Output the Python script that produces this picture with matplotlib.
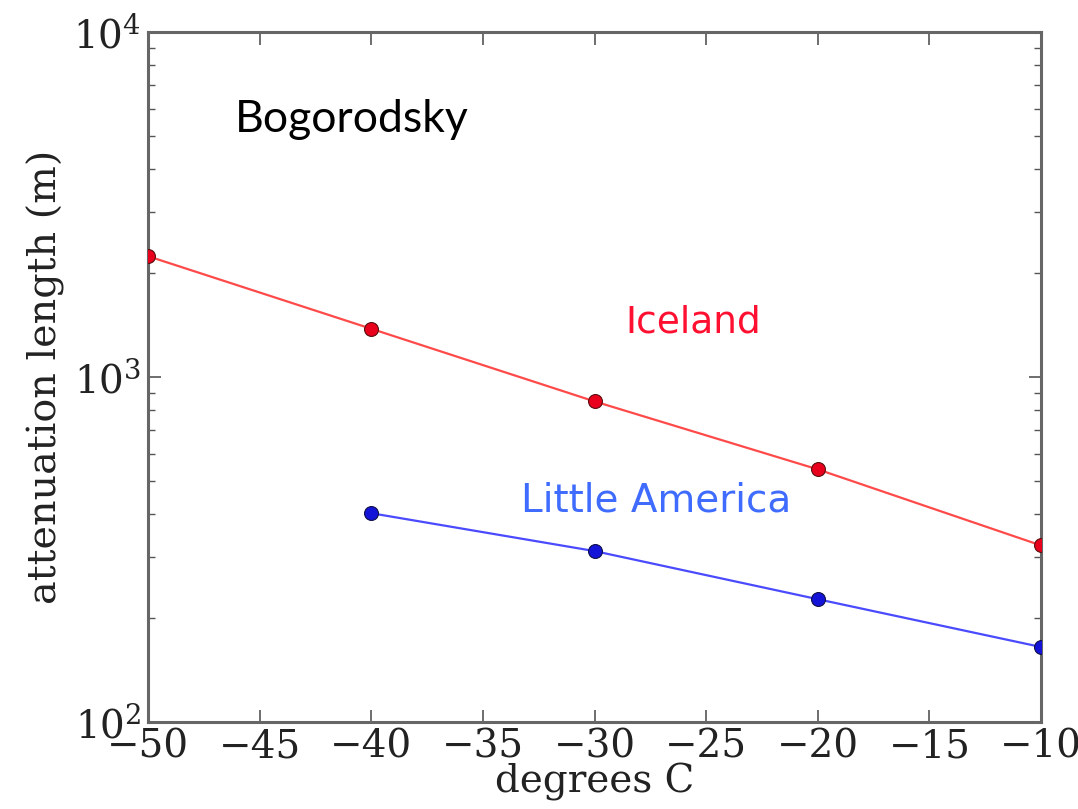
import numpy as np
import matplotlib
matplotlib.use("Agg")
import matplotlib.pyplot as plt
from matplotlib.ticker import LogLocator, MultipleLocator

# temperatures (degrees C) and attenuation lengths (m)
temp_iceland = [-50, -40, -30, -20, -10]
atten_iceland = [2240, 1380, 850, 540, 325]

temp_little_america = [-40, -30, -20, -10]
atten_little_america = [403, 313, 227, 165]

plt.rcParams['font.family'] = 'DejaVu Serif'
plt.rcParams['mathtext.fontset'] = 'dejavuserif'

fig = plt.figure(figsize=(10.78, 8.09), dpi=100)
ax = fig.add_axes([0.1373, 0.1075, 0.8284, 0.8529])

ax.plot(temp_iceland, atten_iceland, '-', color='#ff4a4a', lw=1.6, zorder=2)
ax.plot(temp_iceland, atten_iceland, 'o', color='#e8001c', mec='#5a1010',
        mew=0.8, ms=10, zorder=3)
ax.plot(temp_little_america, atten_little_america, '-', color='#4a4aff', lw=1.6, zorder=2)
ax.plot(temp_little_america, atten_little_america, 'o', color='#1414d8', mec='#10104a',
        mew=0.8, ms=10, zorder=3)

ax.set_yscale('log')
ax.set_xlim(-50, -10)
ax.set_ylim(1e2, 1e4)
ax.xaxis.set_major_locator(MultipleLocator(5))
ax.yaxis.set_major_locator(LogLocator(base=10))
ax.yaxis.set_minor_locator(LogLocator(base=10, subs=np.arange(2, 10)))

ax.tick_params(which='both', direction='in', top=True, right=True,
               colors='#555555', labelcolor='#222222')
ax.tick_params(which='major', length=9, width=1.2, labelsize=28, pad=5)
ax.tick_params(which='minor', length=5, width=1.0)
for s in ax.spines.values():
    s.set_color('#666666')
    s.set_linewidth(2.2)

ax.set_xlabel('degrees C', fontsize=28, color='#222222', labelpad=-2)
ax.set_ylabel('attenuation length (m)', fontsize=28.5, color='#222222', labelpad=6)

ax.text(-46.1, 5560, 'Bogorodsky', fontsize=32, family='Lato', color='black',
        va='center', ha='left')
ax.text(-28.6, 1440, 'Iceland', fontsize=27, family='DejaVu Sans', color='#ff1030',
        va='center', ha='left')
ax.text(-33.3, 440, 'Little America', fontsize=28, family='DejaVu Sans', color='#3f6cff',
        va='center', ha='left')

fig.savefig('out.png', dpi=100)
